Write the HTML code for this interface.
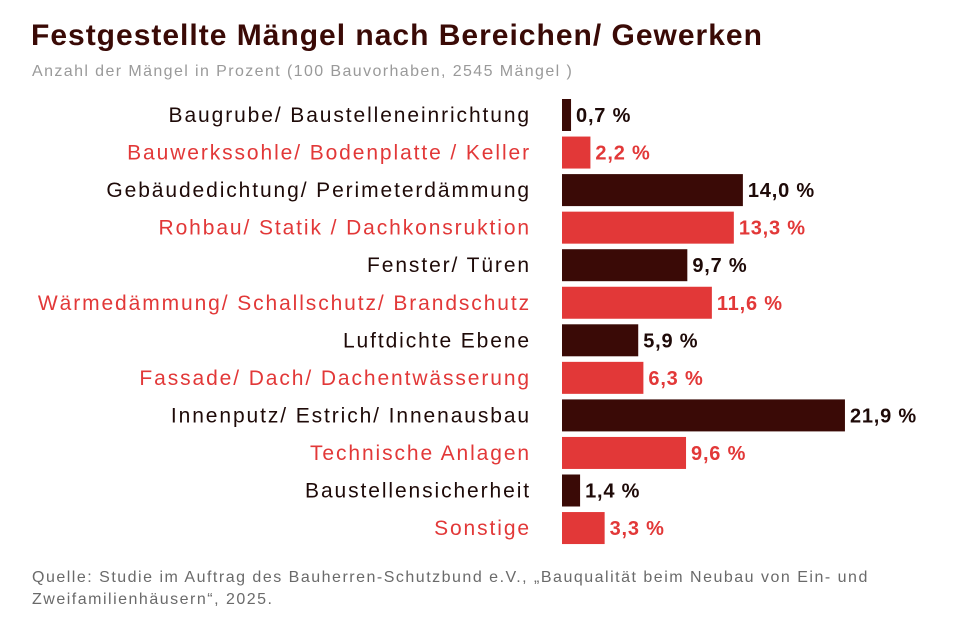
<!DOCTYPE html>
<html><head><meta charset="utf-8"><style>
body{margin:0;background:#fff;width:961px;height:625px;overflow:hidden;font-family:"Liberation Sans",sans-serif}
svg{display:block}
</style></head><body>
<svg id="c" width="961" height="625">
<text x="31" y="45" font-size="30" font-weight="bold" letter-spacing="1" fill="#3a0a06">Festgestellte Mängel nach Bereichen/ Gewerken</text>
<text x="32" y="76" font-size="16" letter-spacing="1.4" fill="#9a9a9a">Anzahl der Mängel in Prozent (100 Bauvorhaben, 2545 Mängel )</text>
<text x="32" y="582" font-size="16" letter-spacing="1.5" fill="#6a6a6a">Quelle: Studie im Auftrag des Bauherren-Schutzbund e.V., „Bauqualität beim Neubau von Ein- und</text>
<text x="32" y="604" font-size="16" letter-spacing="1.5" fill="#6a6a6a">Zweifamilienhäusern“, 2025.</text>
<g id="bars"></g>
</svg>
<script>
const categories=["Baugrube/ Baustelleneinrichtung","Bauwerkssohle/ Bodenplatte / Keller","Gebäudedichtung/ Perimeterdämmung","Rohbau/ Statik / Dachkonsruktion","Fenster/ Türen","Wärmedämmung/ Schallschutz/ Brandschutz","Luftdichte Ebene","Fassade/ Dach/ Dachentwässerung","Innenputz/ Estrich/ Innenausbau","Technische Anlagen","Baustellensicherheit","Sonstige"];
const values=[0.7,2.2,14.0,13.3,9.7,11.6,5.9,6.3,21.9,9.6,1.4,3.3];
const valueLabels=["0,7 %","2,2 %","14,0 %","13,3 %","9,7 %","11,6 %","5,9 %","6,3 %","21,9 %","9,6 %","1,4 %","3,3 %"];
const x0=562,pxPer=12.92,top0=99,pitch=37.55,bh=32;
const xs=v=>v*pxPer, ys=i=>top0+i*pitch;
const g=document.getElementById('bars'),NS="http://www.w3.org/2000/svg";
categories.forEach((c,i)=>{
 const col=i%2?"#e23838":"#3a0a06";
 const r=document.createElementNS(NS,'rect');
 r.setAttribute('x',x0);r.setAttribute('y',ys(i));r.setAttribute('width',xs(values[i]));r.setAttribute('height',bh);r.setAttribute('fill',col);
 
 
 g.appendChild(r);
 const t=document.createElementNS(NS,'text');
 t.setAttribute('x',531);t.setAttribute('y',ys(i)+bh/2+7);t.setAttribute('text-anchor','end');t.setAttribute('font-size','21');t.setAttribute('letter-spacing','1.9');t.setAttribute('fill',i%2?"#e23838":"#1e0a08");
 t.textContent=c;
 
 
 g.appendChild(t);
 const v=document.createElementNS(NS,'text');
 v.setAttribute('x',x0+xs(values[i])+5);v.setAttribute('y',ys(i)+bh/2+7);v.setAttribute('font-size','20');v.setAttribute('letter-spacing','0.8');v.setAttribute('font-weight','bold');v.setAttribute('fill',i%2?"#e23838":"#1e0a08");
 v.textContent=valueLabels[i];
 
 
 g.appendChild(v);
});
</script>
</body></html>
